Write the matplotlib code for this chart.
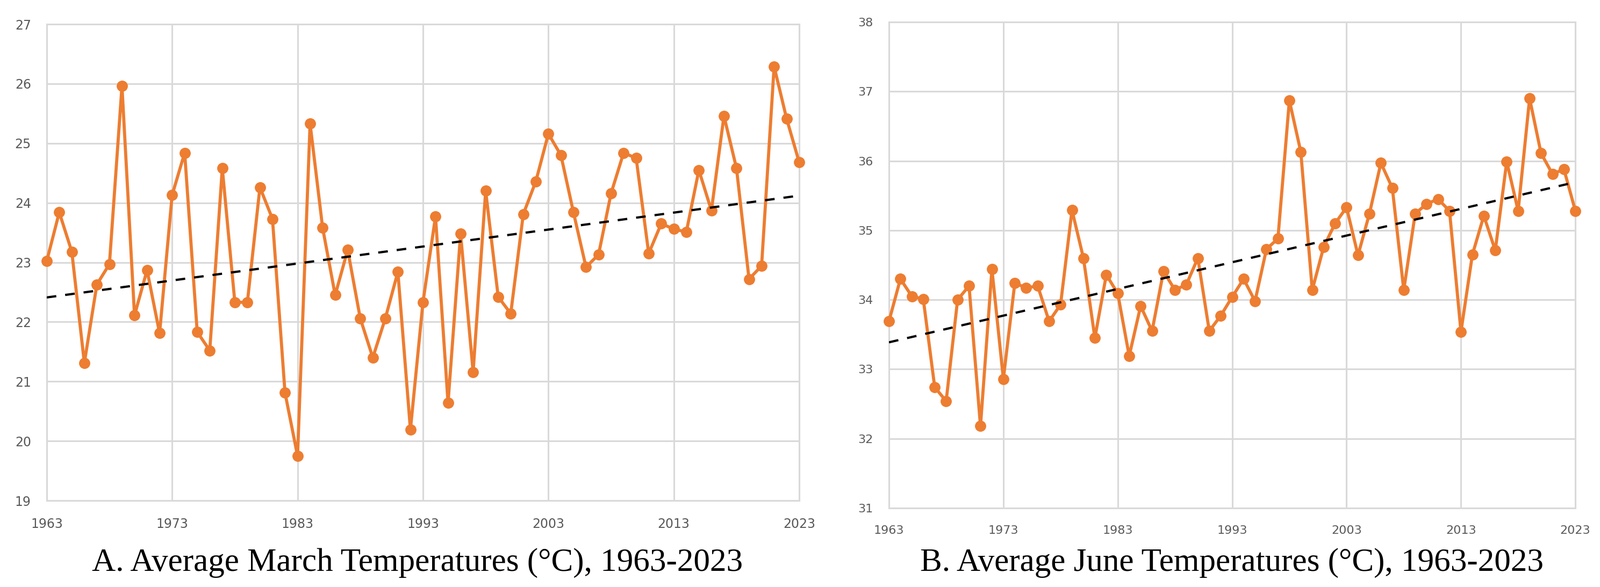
import matplotlib
matplotlib.use('Agg')
import matplotlib.pyplot as plt
import numpy as np

years = list(range(1963, 2024))

march = [23.02, 23.84, 23.18, 21.31, 22.63, 22.97, 25.96, 22.11, 22.87, 21.81,
         24.13, 24.84, 21.83, 21.52, 24.58, 22.33, 22.33, 24.26, 23.73, 20.81,
         19.75, 25.33, 23.58, 22.45, 23.21, 22.06, 21.40, 22.06, 22.84, 20.19,
         22.33, 23.77, 20.64, 23.48, 21.16, 24.20, 22.42, 22.14, 23.81, 24.36,
         25.16, 24.80, 23.84, 22.92, 23.13, 24.16, 24.84, 24.75, 23.15, 23.65,
         23.56, 23.51, 24.55, 23.87, 25.46, 24.58, 22.72, 22.94, 26.29, 25.41,
         24.68]

june = [33.69, 34.30, 34.05, 34.01, 32.74, 32.54, 34.00, 34.20, 32.18, 34.44,
        32.86, 34.24, 34.17, 34.20, 33.69, 33.93, 35.29, 34.60, 33.45, 34.36,
        34.09, 33.19, 33.91, 33.55, 34.41, 34.14, 34.22, 34.60, 33.55, 33.77,
        34.04, 34.30, 33.98, 34.73, 34.88, 36.87, 36.13, 34.14, 34.76, 35.10,
        35.33, 34.64, 35.24, 35.97, 35.61, 34.14, 35.24, 35.38, 35.45, 35.28,
        33.54, 34.65, 35.21, 34.71, 35.99, 35.28, 36.90, 36.11, 35.81, 35.88,
        35.28]

xticks = [1963, 1973, 1983, 1993, 2003, 2013, 2023]
yticks_march = list(range(19, 28))
yticks_june = list(range(31, 39))

titles = ['A. Average March Temperatures (\u00b0C), 1963-2023',
          'B. Average June Temperatures (\u00b0C), 1963-2023']

orange = '#ED7D31'
grid = '#D9D9D9'
label_col = '#595959'

fig = plt.figure(figsize=(29.77, 10.93), dpi=100)
ax1 = fig.add_axes([0.0292, 0.1473, 0.4703, 0.8115])
ax2 = fig.add_axes([0.5556, 0.1345, 0.4290, 0.8280])

x = np.array(years)
for ax, vals, yt, fs in [(ax1, march, yticks_march, 17), (ax2, june, yticks_june, 16)]:
    ax.plot(years, vals, color=orange, lw=4.2, marker='o', ms=14, zorder=3, clip_on=False)
    # linear trend like excel
    k, b = np.polyfit(x, np.array(vals), 1)
    ax.plot(x, k * x + b, color='black', lw=3, linestyle=(0, (4.3, 4.0)), zorder=4)
    ax.set_xlim(1963, 2023)
    ax.set_ylim(yt[0], yt[-1])
    ax.set_xticks(xticks)
    ax.set_yticks(yt)
    ax.grid(True, color=grid, lw=2.2, zorder=0)
    ax.set_axisbelow(True)
    for s in ax.spines.values():
        s.set_color(grid)
        s.set_linewidth(2.2)
    ax.tick_params(length=0, labelsize=fs, labelcolor=label_col)
    ax.tick_params(axis='x', pad=23)
    ax.tick_params(axis='y', pad=21)

fig.text(0.261, (1093 - 1063) / 1093, titles[0], ha='center', va='baseline',
         family='Liberation Serif', fontsize=44)
fig.text(0.770, (1093 - 1063) / 1093, titles[1], ha='center', va='baseline',
         family='Liberation Serif', fontsize=44)

fig.savefig('out.png', dpi=100)
